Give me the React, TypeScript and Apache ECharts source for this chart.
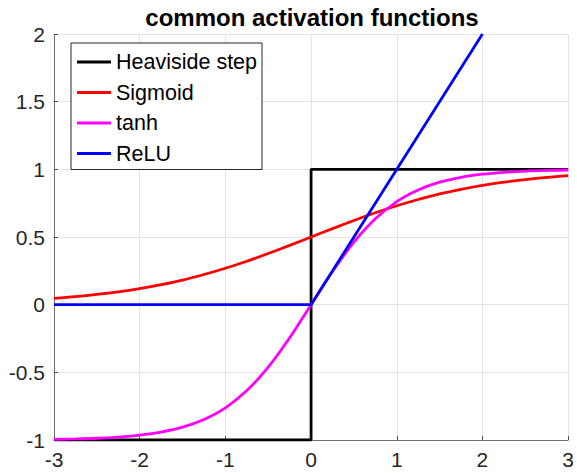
import React, { useEffect, useRef } from "react";
import * as echarts from "echarts";

const titleText = "common activation functions";
const seriesNames = ["Heaviside step", "Sigmoid", "tanh", "ReLU"];
const seriesColors = ["#000000", "#ff0000", "#ff00ff", "#0000ff"];

const xTicks = [-3, -2, -1, 0, 1, 2, 3];
const yTicks = [-1, -0.5, 0, 0.5, 1, 1.5, 2];

const curveX = [
  -3, -2.75, -2.5, -2.25, -2, -1.75, -1.5, -1.25, -1, -0.75, -0.5, -0.25, 0,
  0.25, 0.5, 0.75, 1, 1.25, 1.5, 1.75, 2, 2.25, 2.5, 2.75, 3,
];
const sigmoidY = [
  0.047, 0.06, 0.076, 0.095, 0.119, 0.148, 0.182, 0.223, 0.269, 0.321, 0.378,
  0.438, 0.5, 0.562, 0.622, 0.679, 0.731, 0.777, 0.818, 0.852, 0.881, 0.905,
  0.924, 0.94, 0.953,
];
const tanhY = [
  -0.995, -0.992, -0.987, -0.978, -0.964, -0.941, -0.905, -0.848, -0.762,
  -0.635, -0.462, -0.245, 0, 0.245, 0.462, 0.635, 0.762, 0.848, 0.905, 0.941,
  0.964, 0.978, 0.987, 0.992, 0.995,
];
const stepX = [-3, 0, 0, 3];
const stepY = [-1, -1, 1, 1];
const reluX = [-3, 0, 2];
const reluY = [0, 0, 2];

const zip = (xs: number[], ys: number[]) => xs.map((x, i) => [x, ys[i]]);

const FONT = "'Liberation Sans', Arial, Helvetica, sans-serif";
const TEXT_COLOR = "#262626";

export default function App() {
  const ref = useRef<HTMLDivElement>(null);
  useEffect(() => {
    if (!ref.current) return;
    const chart = echarts.init(ref.current, null, { renderer: "svg" });
    const lineSeries = (i: number, data: number[][], smooth: boolean) => ({
      name: seriesNames[i],
      type: "line",
      data,
      showSymbol: false,
      symbol: "none",
      smooth: smooth ? 0.35 : false,
      lineStyle: { color: seriesColors[i], width: 2.8 },
      itemStyle: { color: seriesColors[i] },
      z: 2 + i,
    });
    chart.setOption({
      animation: false,
      backgroundColor: "#ffffff",
      textStyle: { fontFamily: FONT },
      grid: { left: 54, right: 8, top: 34, bottom: 33, containLabel: false },
      graphic: [
        {
          type: "text",
          x: 312,
          y: 17,
          style: {
            text: titleText,
            font: `bold 24px ${FONT}`,
            fill: "#000000",
            textAlign: "center",
            textVerticalAlign: "middle",
          },
        },
      ],
      legend: {
        orient: "vertical",
        left: 71,
        top: 43,
        data: seriesNames.map((n) => ({ name: n, icon: "rect" })),
        itemWidth: 34,
        itemHeight: 3,
        itemGap: 8.5,
        padding: [8, 5, 5, 6],
        borderColor: TEXT_COLOR,
        borderWidth: 1,
        backgroundColor: "#ffffff",
        selectedMode: false,
        textStyle: {
          fontFamily: FONT,
          fontSize: 21.5,
          color: "#000000",
          lineHeight: 20,
        },
      },
      xAxis: {
        type: "value",
        min: -3,
        max: 3,
        interval: 1,
        axisLine: { show: true, onZero: false, lineStyle: { color: "#707070", width: 1 } },
        axisTick: { show: true, inside: true, length: 4, lineStyle: { color: "#505050" } },
        axisLabel: {
          fontFamily: FONT,
          fontSize: 21,
          color: TEXT_COLOR,
          margin: 9,
          formatter: (v: number) => (xTicks.includes(v) ? String(v) : ""),
        },
        splitLine: { show: true, lineStyle: { color: "#e3e3e3", width: 1 } },
      },
      yAxis: {
        type: "value",
        min: -1,
        max: 2,
        interval: 0.5,
        axisLine: { show: true, onZero: false, lineStyle: { color: "#707070", width: 1 } },
        axisTick: { show: true, inside: true, length: 4, lineStyle: { color: "#505050" } },
        axisLabel: {
          fontFamily: FONT,
          fontSize: 21,
          color: TEXT_COLOR,
          margin: 9,
          formatter: (v: number) => (yTicks.includes(v) ? String(v) : ""),
        },
        splitLine: { show: true, lineStyle: { color: "#e3e3e3", width: 1 } },
      },
      series: [
        lineSeries(0, zip(stepX, stepY), false),
        lineSeries(1, zip(curveX, sigmoidY), true),
        lineSeries(2, zip(curveX, tanhY), true),
        lineSeries(3, zip(reluX, reluY), false),
      ],
    });
    return () => chart.dispose();
  }, []);
  return <div ref={ref} style={{ width: 577, height: 473, position: "absolute", left: 0, top: 0 }} />;
}
